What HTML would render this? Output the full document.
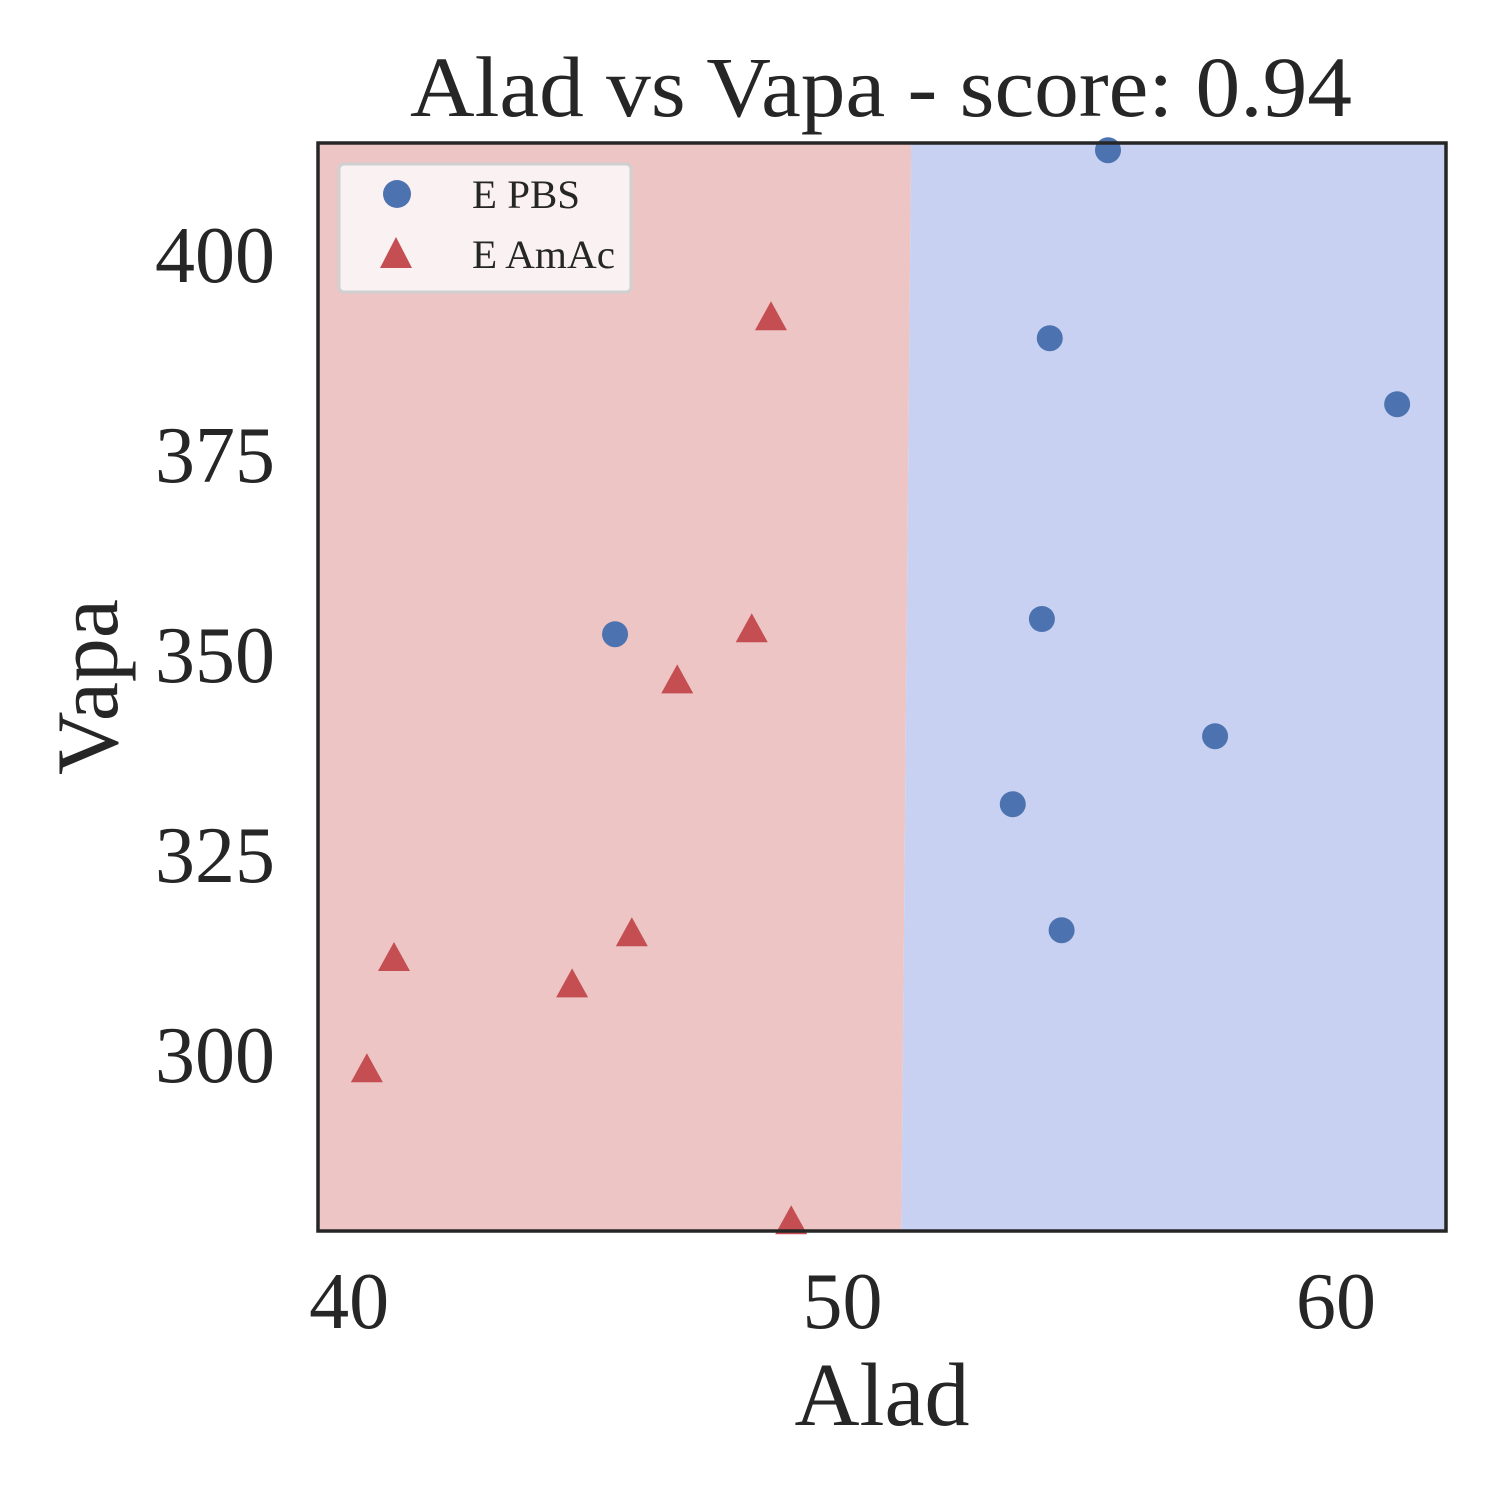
<!DOCTYPE html>
<html><head><meta charset="utf-8"><style>
html,body{margin:0;padding:0;background:#fff;}
svg{display:block;font-family:"Liberation Serif",serif;}
</style></head><body>
<svg id="chart" width="1500" height="1500" viewBox="0 0 1500 1500">
<g id="regions"></g>
<g id="marks"></g>
<g id="axes"></g>
</svg>
<script>
const xTicks=[40,50,60];
const yTicks=[300,325,350,375,400];
const pbsX=[55.38,54.20,61.24,45.39,54.04,57.55,53.45,54.44];
const pbsY=[413.5,390.0,381.75,353.0,354.9,340.25,331.75,316.0];
const amacX=[48.55,48.16,46.65,45.73,40.91,44.52,40.36,48.96];
const amacY=[392.5,353.5,347.1,315.5,312.4,309.1,298.5,279.5];
const boundaryX=[51.39,51.19];
const boundaryY=[414.4,278.4];

const L=318,R=1446,T=143,B=1231;
const xMin=39.37,xMax=62.23,yMin=278.4,yMax=414.4;
const sx=v=>L+(v-xMin)/(xMax-xMin)*(R-L);
const sy=v=>B-(v-yMin)/(yMax-yMin)*(B-T);
const NS="http://www.w3.org/2000/svg";
function mk(tag,attrs,parent,text){const e=document.createElementNS(NS,tag);for(const k in attrs)e.setAttribute(k,attrs[k]);if(text!==undefined)e.textContent=text;parent.appendChild(e);return e;}
const reg=document.getElementById('regions'),marks=document.getElementById('marks'),axes=document.getElementById('axes');

const bx0=sx(boundaryX[0]),by0=sy(boundaryY[0]),bx1=sx(boundaryX[1]),by1=sy(boundaryY[1]);
let r=mk('polygon',{points:`${L},${T} ${bx0},${T} ${bx1},${B} ${L},${B}`,fill:'#edc5c4'},reg);


let b=mk('polygon',{points:`${bx0},${T} ${R},${T} ${R},${B} ${bx1},${B}`,fill:'#c8d1f1'},reg);



pbsX.forEach((x,i)=>{
 const c=mk('circle',{cx:sx(x),cy:sy(pbsY[i]),r:13,fill:'#4c72b0'},marks);
 
 
});
amacX.forEach((x,i)=>{
 const cx=sx(x),cy=sy(amacY[i]);
 const t=mk('polygon',{points:`${cx},${cy-17} ${cx+16},${cy+12} ${cx-16},${cy+12}`,fill:'#c44e52'},marks);
 
 
});

let f=mk('rect',{x:L,y:T,width:R-L,height:B-T,fill:'none',stroke:'#262626','stroke-width':3.5},axes);


xTicks.forEach(v=>{
 const t=mk('text',{x:sx(v),y:1328,'font-size':80,'text-anchor':'middle',fill:'#262626',textLength:80,lengthAdjust:'spacingAndGlyphs'},axes,String(v));
 
 
});
yTicks.forEach(v=>{
 const t=mk('text',{x:155,y:sy(v)+24,'font-size':80,fill:'#262626',textLength:120,lengthAdjust:'spacingAndGlyphs'},axes,String(v));
 
 
});
let xt=mk('text',{x:882,y:1425,'font-size':90,'text-anchor':'middle',fill:'#262626'},axes,'Alad');


let yt=mk('text',{x:0,y:0,'font-size':88,'text-anchor':'middle',fill:'#262626',transform:'translate(117,687) rotate(-90)'},axes,'Vapa');


let tt=mk('text',{x:410,y:116,'font-size':86,fill:'#262626',textLength:942,lengthAdjust:'spacingAndGlyphs'},axes,'Alad vs Vapa - score: 0.94');



const lg=mk('g',{},axes);


mk('rect',{x:339,y:164,width:292,height:128,rx:5,fill:'#faf2f2',stroke:'#d0d0d0','stroke-width':3},lg);
let le1=mk('circle',{cx:397,cy:194,r:14,fill:'#4c72b0'},lg);


let lt1=mk('text',{x:472,y:208,'font-size':40,fill:'#262626',textLength:108,lengthAdjust:'spacingAndGlyphs'},lg,'E PBS');


let le2=mk('polygon',{points:'396,237 412,268 380,268',fill:'#c44e52'},lg);


let lt2=mk('text',{x:472,y:268,'font-size':40,fill:'#262626',textLength:143,lengthAdjust:'spacingAndGlyphs'},lg,'E AmAc');


</script>
</body></html>
